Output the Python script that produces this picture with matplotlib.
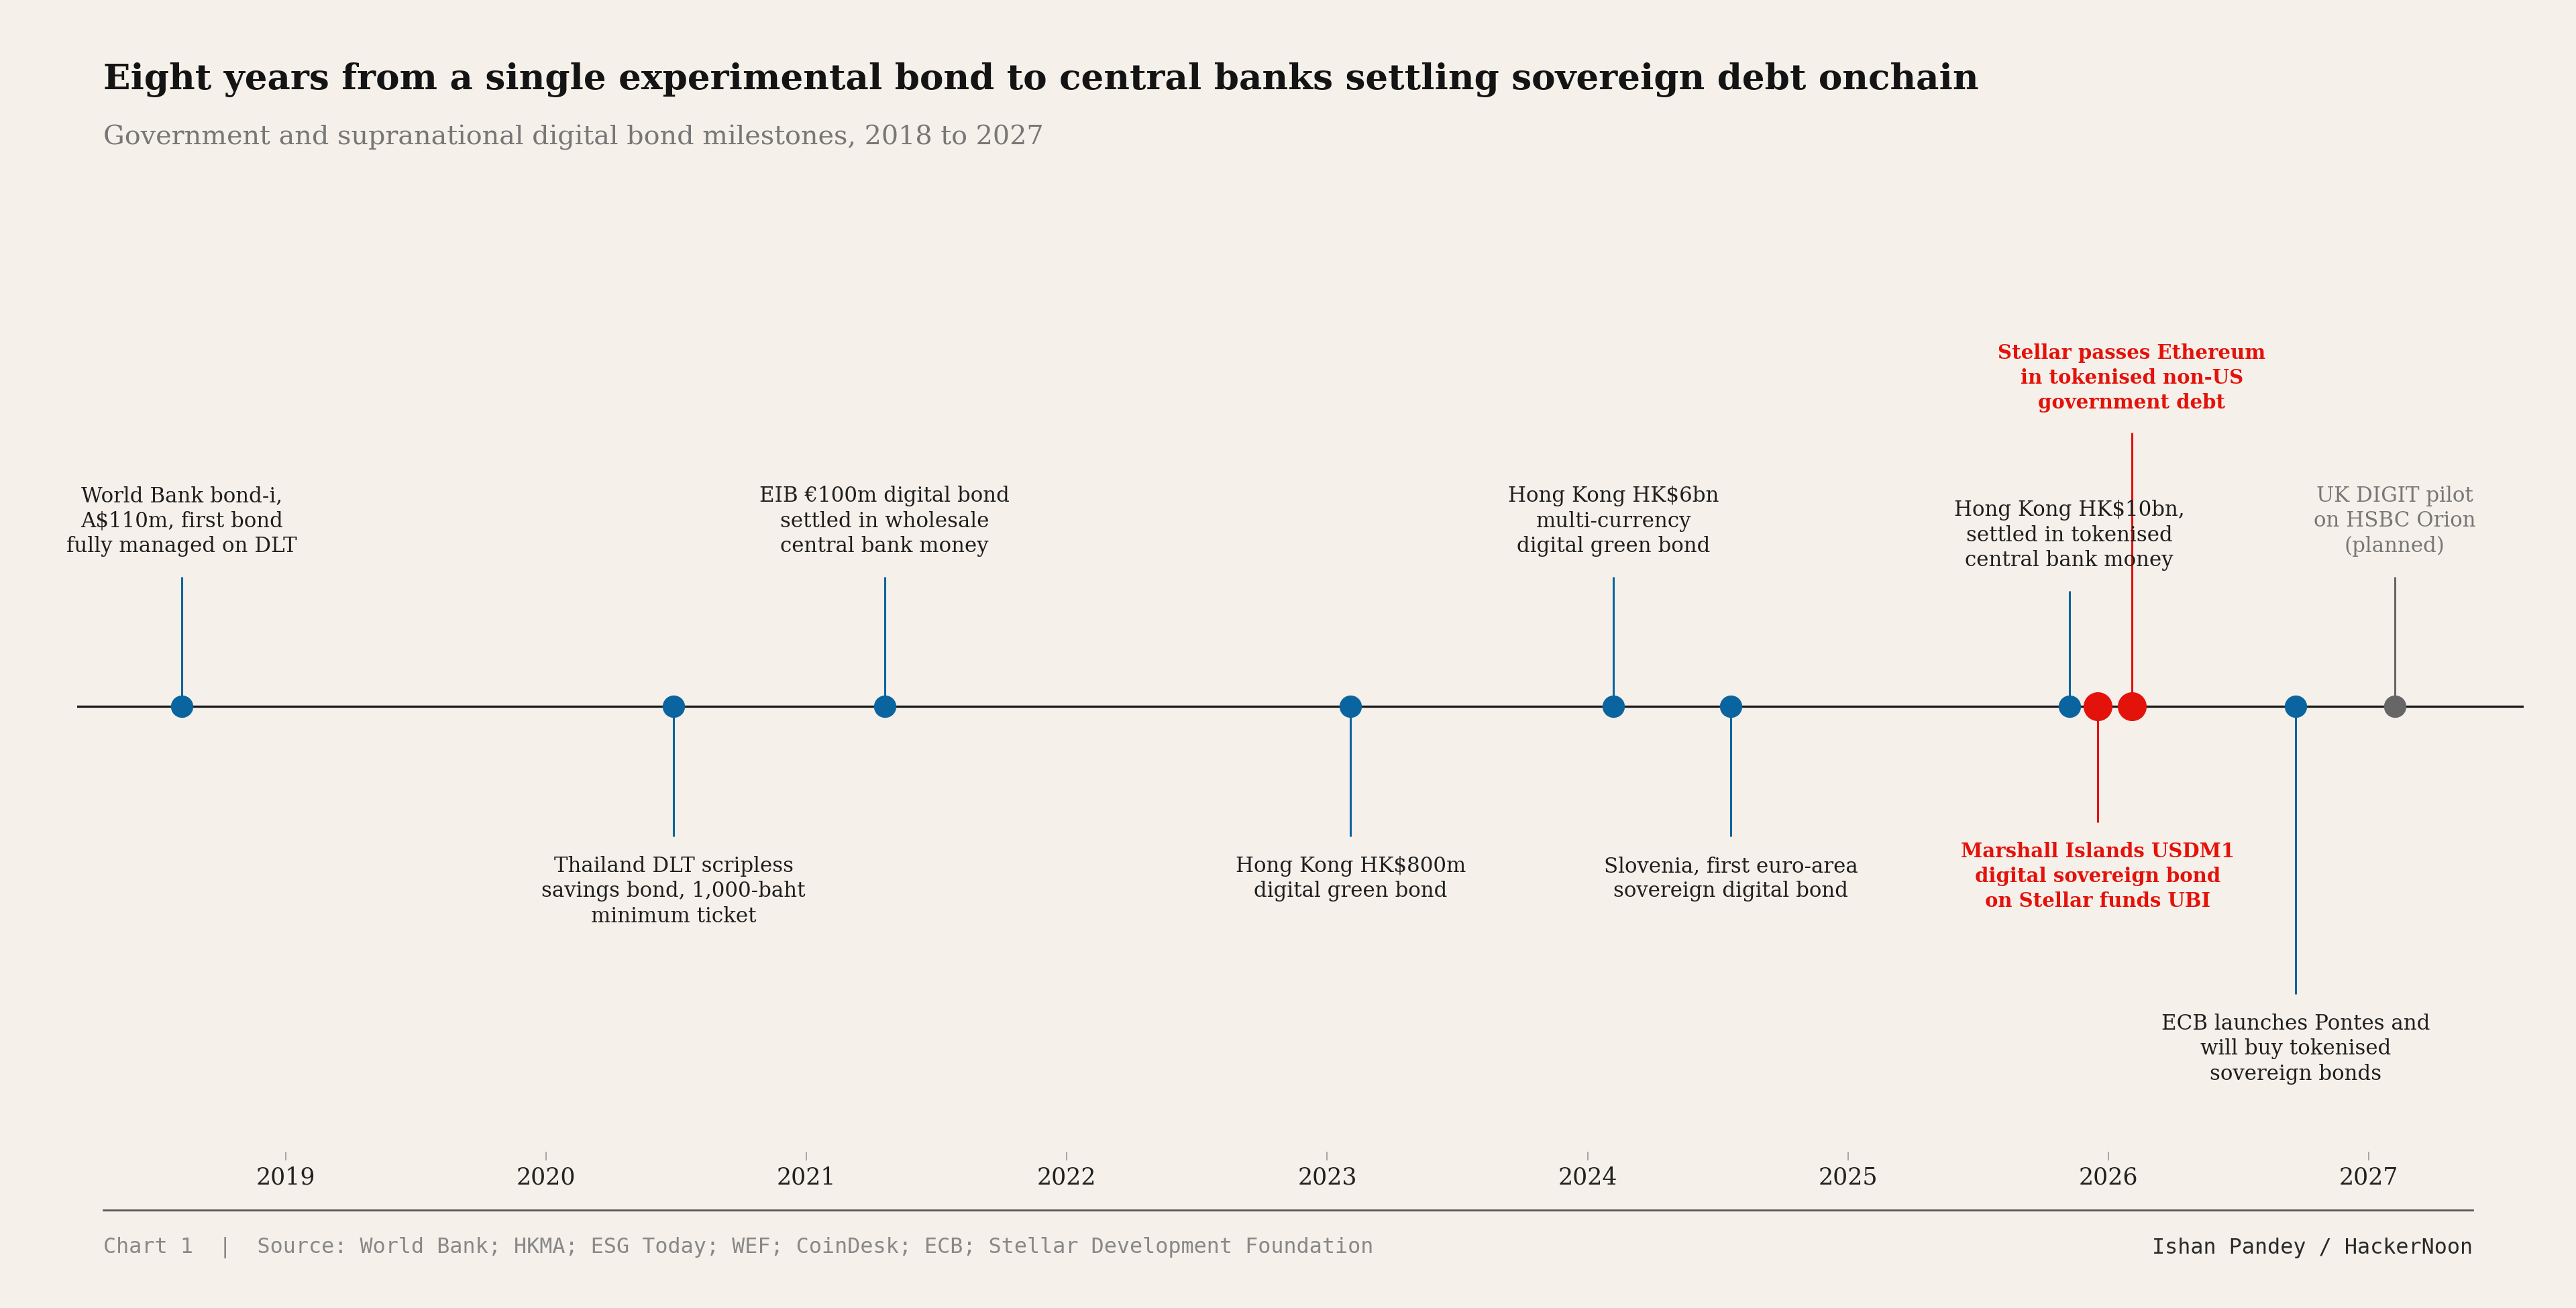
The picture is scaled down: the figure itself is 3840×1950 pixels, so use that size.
import matplotlib
matplotlib.use("Agg")
import matplotlib.pyplot as plt

# ---------------- data ----------------
event_labels = [
    "World Bank bond-i,\nA$110m, first bond\nfully managed on DLT",
    "Thailand DLT scripless\nsavings bond, 1,000-baht\nminimum ticket",
    "EIB €100m digital bond\nsettled in wholesale\ncentral bank money",
    "Hong Kong HK$800m\ndigital green bond",
    "Hong Kong HK$6bn\nmulti-currency\ndigital green bond",
    "Slovenia, first euro-area\nsovereign digital bond",
    "Hong Kong HK$10bn,\nsettled in tokenised\ncentral bank money",
    "Marshall Islands USDM1\ndigital sovereign bond\non Stellar funds UBI",
    "Stellar passes Ethereum\nin tokenised non-US\ngovernment debt",
    "ECB launches Pontes and\nwill buy tokenised\nsovereign bonds",
    "UK DIGIT pilot\non HSBC Orion\n(planned)",
]
event_dates = [2018.60, 2020.49, 2021.30, 2023.09, 2024.10, 2024.55,
               2025.85, 2025.96, 2026.09, 2026.72, 2027.10]
event_kind = ["done", "done", "done", "done", "done", "done",
              "done", "stellar", "stellar", "done", "planned"]
year_ticks = [2019, 2020, 2021, 2022, 2023, 2024, 2025, 2026, 2027]

title = "Eight years from a single experimental bond to central banks settling sovereign debt onchain"
subtitle = "Government and supranational digital bond milestones, 2018 to 2027"
source = "Chart 1  |  Source: World Bank; HKMA; ESG Today; WEF; CoinDesk; ECB; Stellar Development Foundation"
credit = "Ishan Pandey / HackerNoon"

# ---------------- layout / style ----------------
W, H = 3840, 1950
DPI = 200
BG = "#F5F0E9"
COLORS = {"done": "#0A64A0", "stellar": "#E3120B", "planned": "#666666"}
TEXT_COLORS = {"done": "#1F1F1F", "stellar": "#E3120B", "planned": "#777777"}
WEIGHTS = {"done": "normal", "stellar": "bold", "planned": "normal"}
SIZES = {"done": 11.1, "stellar": 10.5, "planned": 11.1}
MSIZE = {"done": 12, "stellar": 15.5, "planned": 12}
# stem length in pixel units (positive = above the axis line)
stem_len = [193, -194, 193, -194, 193, -194, 172, -173, 408, -429, 193]

SERIF = ["DejaVu Serif"]
MONO = ["DejaVu Sans Mono"]
LABEL_LS = 1.27

fig = plt.figure(figsize=(W / DPI, H / DPI), dpi=DPI, facecolor=BG)

base_y = 1053
ax_top, ax_bot = 200, 1717
ax_left, ax_right = 115, 3762
ax = fig.add_axes([ax_left / W, 1 - ax_bot / H, (ax_right - ax_left) / W, (ax_bot - ax_top) / H])
ax.set_facecolor(BG)
ax.set_xlim(2018.199, 2027.595)
ax.set_ylim(-(ax_bot - base_y), base_y - ax_top)

ax.axhline(0, color="#1A1A1A", lw=1.2, zorder=1)

for lab, d, k, L in zip(event_labels, event_dates, event_kind, stem_len):
    c = COLORS[k]
    ax.plot([d, d], [0, L], color=c, lw=1.1, zorder=2, solid_capstyle="butt")
    ax.plot([d], [0], marker="o", ms=MSIZE[k], color=c, mec="none", zorder=3)
    ls = LABEL_LS * (11.1 / SIZES[k])
    if L > 0:
        ax.text(d, L + 30, lab, ha="center", va="bottom", multialignment="center",
                fontsize=SIZES[k], family=SERIF, color=TEXT_COLORS[k],
                fontweight=WEIGHTS[k], linespacing=ls)
    else:
        ax.text(d, L - 29, lab, ha="center", va="top", multialignment="center",
                fontsize=SIZES[k], family=SERIF, color=TEXT_COLORS[k],
                fontweight=WEIGHTS[k], linespacing=ls)

ax.set_xticks(year_ticks)
ax.set_xticklabels([str(y) for y in year_ticks], family=SERIF, fontsize=12.5, color="#222222")
ax.tick_params(axis="x", length=4.7, width=0.6, color="#999999", pad=3)
ax.set_yticks([])
for s in ax.spines.values():
    s.set_visible(False)

# titles
fig.text(154 / W, 1 - 133 / H, title, ha="left", va="baseline", family=SERIF,
         fontweight="bold", fontsize=19.2, color="#141414")
fig.text(154 / W, 1 - 215 / H, subtitle, ha="left", va="baseline", family=SERIF,
         fontsize=14.3, color="#777777")

# footer rule and text
fig.add_artist(plt.Line2D([154 / W, 3686 / W], [1 - 1804 / H, 1 - 1804 / H],
                          transform=fig.transFigure, color="#555555", lw=1.0))
fig.text(154 / W, 1 - 1860 / H, source, ha="left", va="center", family=MONO,
         fontsize=11.45, color="#888888")
fig.text(3686 / W, 1 - 1860 / H, credit, ha="right", va="center", family=MONO,
         fontsize=11.45, color="#2A2A2A")

fig.savefig("out.png", dpi=DPI, facecolor=BG)
